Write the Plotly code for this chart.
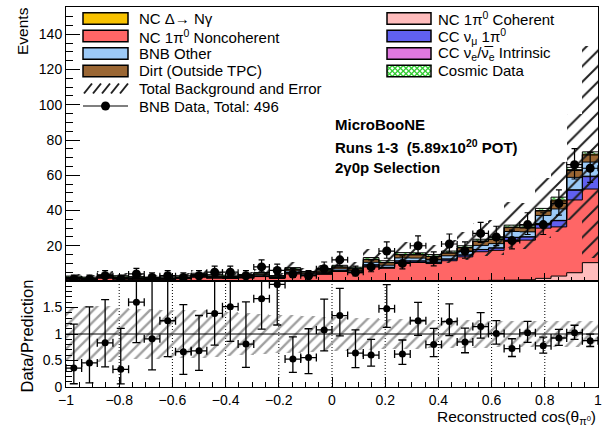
import numpy as np
import plotly.graph_objects as go

# ---------------- data ----------------
x_min, x_max, n_bins = -1.0, 1.0, 34

nc_coherent = [0, 0, 0, 0, 0, 0, 0, 0, 0, 0, 0, 0, 0, 0, 0, 0, 0,
               0, 0, 0, 0, 0, 0, 0.1, 0.2, 0.2, 0.3, 0.4, 0.5, 0.7, 1.5, 2.8, 4.7, 10.4]
nc_noncoherent = [1.2, 0.9, 1.7, 1.3, 1.0, 0.9, 1.0, 1.3, 2.2, 1.7, 1.5, 1.8, 2.5, 1.5, 4.5, 3.0, 3.8,
                  5.4, 4.6, 8.5, 7.2, 10.5, 10.5, 9.8, 11.3, 13.5, 16.3, 17.0, 22.0, 22.5, 28.5, 27.9, 41.3, 41.8]
cc_numu_pi0 = [0.1, 0.1, 0.1, 0.1, 0.1, 0.1, 0.1, 0.1, 0.2, 0.1, 0.1, 0.1, 0.2, 0.1, 0.3, 0.2, 0.3,
               0.4, 0.3, 0.6, 0.5, 0.8, 0.8, 0.7, 0.9, 1.0, 1.2, 1.3, 2.2, 1.8, 2.5, 3.5, 5.5, 7.0]
cc_nue = [0, 0, 0, 0, 0, 0, 0, 0, 0, 0, 0, 0, 0, 0, 0.05, 0.05, 0.05,
          0.05, 0.05, 0.1, 0.05, 0.1, 0.1, 0.1, 0.1, 0.1, 0.1, 0.1, 0.1, 0.1, 0.2, 0.2, 0.3, 0.3]
bnb_other = [0.4, 0.3, 0.5, 0.4, 0.3, 0.3, 0.3, 0.4, 0.6, 0.5, 0.4, 0.5, 0.6, 0.4, 0.9, 0.6, 0.7,
             1.0, 0.9, 1.4, 1.2, 1.7, 1.6, 1.6, 1.8, 2.0, 2.3, 2.4, 3.3, 2.8, 4.5, 6.5, 7.0, 8.0]
dirt = [0.4, 0.3, 0.5, 0.4, 0.4, 0.3, 0.3, 0.4, 0.6, 0.5, 0.5, 0.5, 0.7, 0.4, 0.9, 0.7, 0.8,
        1.0, 1.0, 1.5, 1.4, 1.8, 1.8, 1.6, 1.5, 2.0, 2.3, 2.4, 2.2, 2.2, 2.5, 4.5, 3.9, 4.0]
nc_delta = [0, 0, 0, 0, 0, 0, 0, 0, 0, 0, 0, 0, 0, 0, 0.05, 0.05, 0.05,
            0.15, 0.15, 0.2, 0.15, 0.2, 0.2, 0.1, 0.2, 0.2, 0.2, 0.2, 0.3, 0.2, 0.3, 0.5, 0.5, 0.5]
cosmic = [0.7, 0.6, 0.8, 0.8, 0.7, 0.6, 0.7, 0.8, 0.8, 0.8, 0.8, 0.8, 0.8, 0.7, 0.9, 0.8, 0.8,
          0.9, 0.8, 1.0, 1.0, 1.0, 1.0, 1.0, 1.0, 1.0, 1.0, 1.0, 1.1, 1.0, 1.2, 1.7, 1.3, 1.3]

bnb_data = [1, 1, 3, 1, 4, 2, 3, 2, 3, 5, 5, 3, 8, 6, 4, 3, 7,
            12, 5, 8, 17, 10, 20, 12, 21, 17, 27, 25, 23, 32, 32, 44, 66, 64]

# half-width of the "Total Background and Error" band (events)
total_err = [1.4, 1.1, 1.8, 1.5, 1.2, 1.1, 1.2, 1.4, 2.0, 1.6, 1.5, 1.6, 2.0, 1.3, 3.0, 2.2, 2.6,
             3.5, 3.0, 5.0, 4.5, 6.0, 5.8, 5.5, 6.5, 8.0, 9.5, 10.0, 13.0, 13.0, 17.0, 20.0, 30.0, 60.0]
# fractional systematic band in the ratio panel
ratio_band = [0.50, 0.52, 0.52, 0.50, 0.48, 0.47, 0.46, 0.45, 0.45, 0.44, 0.42, 0.40, 0.38, 0.36, 0.35, 0.34, 0.33,
              0.32, 0.31, 0.30, 0.29, 0.28, 0.28, 0.27, 0.27, 0.26, 0.26, 0.25, 0.25, 0.25, 0.25, 0.25, 0.25, 0.25]

x_tick_vals = [-1, -0.8, -0.6, -0.4, -0.2, 0, 0.2, 0.4, 0.6, 0.8, 1]
x_tick_text = ["\u22121", "\u22120.8", "\u22120.6", "\u22120.4", "\u22120.2", "0", "0.2", "0.4", "0.6", "0.8", "1"]
grid_vals = [-0.8, -0.6, -0.4, -0.2, 0, 0.2, 0.4, 0.6, 0.8]
y_tick_vals = [20, 40, 60, 80, 100, 120, 140]
r_tick_vals = [0, 0.5, 1, 1.5]
r_tick_text = ["0", "0.5", "1", "1.5"]

# ---------------- derived ----------------
edges = np.linspace(x_min, x_max, n_bins + 1)
centers = 0.5 * (edges[:-1] + edges[1:])
binw = edges[1] - edges[0]

FONT = "Liberation Sans, Arial, sans-serif"

# pixel geometry of the figure (611 x 432)
W, H = 611, 432
L, R, T, B = 66, 13, 7, 45
PW, PH = W - L - R, H - T - B
split_px = 281  # boundary between the two panels
ratio_top = (H - B - split_px) / PH


def px(xp):
    return (xp - L) / PW


def py(yp):
    return (H - B - yp) / PH


fig = go.Figure()

stack = [
    (nc_coherent, "#ffbcbc", None),
    (nc_noncoherent, "#ff6666", None),
    (cc_numu_pi0, "#6060f0", None),
    (cc_nue, "#e078e0", None),
    (bnb_other, "#9ccaf8", None),
    (dirt, "#9a6633", None),
    (nc_delta, "#f8c200", None),
    (cosmic, "white", "x"),
]

base = np.zeros(n_bins)
tops = []
for vals, col, pat in stack:
    v = np.array(vals, dtype=float)
    if pat:
        marker = dict(color="white", line=dict(width=0),
                      pattern=dict(shape="x", fgcolor="#33cc33", bgcolor="white", size=6, solidity=0.3))
    else:
        marker = dict(color=col, line=dict(width=0))
    fig.add_trace(go.Bar(x=centers, y=v, base=base.copy(), width=binw, marker=marker,
                         showlegend=False, hoverinfo="skip", xaxis="x", yaxis="y"))
    base = base + v
    tops.append(base.copy())

for t in tops:
    fig.add_trace(go.Scatter(x=edges, y=np.append(t, t[-1]), mode="lines",
                             line=dict(color="black", width=1, shape="hv"),
                             showlegend=False, hoverinfo="skip", xaxis="x", yaxis="y"))

pred = base
err = np.array(total_err)
fig.add_trace(go.Bar(x=centers, y=2 * err, base=pred - err, width=binw,
                     marker=dict(color="rgba(0,0,0,0)", line=dict(width=0),
                                 pattern=dict(shape="/", fgcolor="#202020", bgcolor="rgba(0,0,0,0)",
                                              size=11, solidity=0.18)),
                     showlegend=False, hoverinfo="skip", xaxis="x", yaxis="y"))

d = np.array(bnb_data, dtype=float)
d_up = np.sqrt(d + 0.75) + 1.0
d_lo = d - d * (1 - 1 / (9 * d) - 1 / (3 * np.sqrt(d))) ** 3

fig.add_trace(go.Scatter(x=centers, y=d, mode="markers",
                         marker=dict(color="black", size=9),
                         error_y=dict(type="data", symmetric=False, array=d_up, arrayminus=d_lo,
                                      color="black", thickness=1.2, width=3),
                         error_x=dict(type="data", array=np.full(n_bins, binw / 2),
                                      color="black", thickness=1.2, width=3),
                         showlegend=False, hoverinfo="skip", xaxis="x", yaxis="y"))

# ratio panel
rb = np.array(ratio_band)
fig.add_trace(go.Bar(x=centers, y=2 * rb, base=1 - rb, width=binw,
                     marker=dict(color="rgba(0,0,0,0)", line=dict(width=0),
                                 pattern=dict(shape="/", fgcolor="#a0a0a0", bgcolor="rgba(0,0,0,0)",
                                              size=8, solidity=0.3)),
                     showlegend=False, hoverinfo="skip", xaxis="x2", yaxis="y2"))

ratio = d / pred
fig.add_trace(go.Scatter(x=centers, y=ratio, mode="markers",
                         marker=dict(color="black", size=7),
                         error_y=dict(type="data", symmetric=False, array=d_up / pred,
                                      arrayminus=d_lo / pred, color="black", thickness=1.3, width=4),
                         error_x=dict(type="data", array=np.full(n_bins, binw / 2),
                                      color="black", thickness=1.3, width=4),
                         showlegend=False, hoverinfo="skip", xaxis="x2", yaxis="y2"))

shapes = [dict(type="line", xref="x2", yref="y2", x0=x_min, x1=x_max, y0=1, y1=1,
               line=dict(color="black", width=1), layer="above")]
for gv in grid_vals:
    shapes.append(dict(type="line", xref="x2", yref="y2", x0=gv, x1=gv, y0=0, y1=2,
                       line=dict(color="black", width=1, dash="1px,2px"), layer="below"))

# ---------------- legend (drawn by hand, ROOT style) ----------------
annotations = []
rows = [18.5, 36, 53.5, 71, 88.5, 106]
lx0, lx1, ltx = 83, 128, 137
rx0, rx1, rtx = 387, 431, 436
sw_h = 11.5

left_entries = [("#f8c200", "NC \u0394\u2192 N\u03b3"),
                ("#ff6666", "NC 1\u03c0<sup>0</sup> Noncoherent"),
                ("#9ccaf8", "BNB Other"),
                ("#9a6633", "Dirt (Outside TPC)")]
right_entries = [("#ffbcbc", "NC 1\u03c0<sup>0</sup> Coherent"),
                 ("#6060f0", "CC \u03bd<sub>\u03bc</sub> 1\u03c0<sup>0</sup>"),
                 ("#e078e0", "CC \u03bd<sub>e</sub>/\u03bd\u0305<sub>e</sub> Intrinsic")]


def rect(x0, x1, yc, fill):
    return dict(type="rect", xref="paper", yref="paper", x0=px(x0), x1=px(x1),
                y0=py(yc + sw_h / 2), y1=py(yc - sw_h / 2), fillcolor=fill,
                line=dict(color="black", width=1.5), layer="above")


def label(x, yc, text):
    return dict(xref="paper", yref="paper", x=px(x), y=py(yc), xanchor="left", yanchor="middle",
                text=text, showarrow=False, font=dict(family=FONT, size=15, color="black"))


for i, (c, t) in enumerate(left_entries):
    shapes.append(rect(lx0, lx1, rows[i], c))
    annotations.append(label(ltx, rows[i], t))
for i, (c, t) in enumerate(right_entries):
    shapes.append(rect(rx0, rx1, rows[i], c))
    annotations.append(label(rtx, rows[i], t))

# cosmic data swatch: white box with green cross-hatch
cy = rows[3]
cx0, cx1, cyt, cyb = rx0, rx1, cy - sw_h / 2, cy + sw_h / 2
shapes.append(dict(type="rect", xref="paper", yref="paper", x0=px(cx0), x1=px(cx1),
                   y0=py(cyb), y1=py(cyt), fillcolor="white", line=dict(width=0), layer="above"))
hgt = cyb - cyt
for k in np.arange(-hgt, cx1 - cx0, 5.5):
    xa, xb = max(cx0, cx0 + k), min(cx1, cx0 + k + hgt)
    if xb > xa:
        shapes.append(dict(type="line", xref="paper", yref="paper",
                           x0=px(xa), y0=py(cyt + (xa - cx0 - k)), x1=px(xb), y1=py(cyt + (xb - cx0 - k)),
                           line=dict(color="#33cc33", width=1.3), layer="above"))
        shapes.append(dict(type="line", xref="paper", yref="paper",
                           x0=px(xa), y0=py(cyb - (xa - cx0 - k)), x1=px(xb), y1=py(cyb - (xb - cx0 - k)),
                           line=dict(color="#33cc33", width=1.3), layer="above"))
shapes.append(dict(type="rect", xref="paper", yref="paper", x0=px(cx0), x1=px(cx1),
                   y0=py(cyb), y1=py(cyt), fillcolor="rgba(0,0,0,0)",
                   line=dict(color="black", width=1.5), layer="above"))
annotations.append(label(rtx, cy, "Cosmic Data"))

# total background and error swatch: slanted strokes
hy = rows[4]
for k in range(5):
    xs = lx0 + 1 + 9 * k
    shapes.append(dict(type="line", xref="paper", yref="paper", x0=px(xs), y0=py(hy + 5),
                       x1=px(xs + 8), y1=py(hy - 5), line=dict(color="#202020", width=2), layer="above"))
annotations.append(label(ltx, hy, "Total Background and Error"))

# data swatch
dy = rows[5]
shapes.append(dict(type="line", xref="paper", yref="paper", x0=px(lx0), x1=px(lx1), y0=py(dy), y1=py(dy),
                   line=dict(color="black", width=1.2), layer="above"))
shapes.append(dict(type="circle", xref="paper", yref="paper", x0=px(105.5 - 4.5), x1=px(105.5 + 4.5),
                   y0=py(dy + 4.5), y1=py(dy - 4.5), fillcolor="black", line=dict(color="black", width=0),
                   layer="above"))
annotations.append(label(ltx, dy, "BNB Data, Total: 496"))

# experiment labels
for yc, t in [(125, "MicroBooNE"),
              (146.5, "Runs 1-3&nbsp;&nbsp;(5.89x10<sup>20</sup> POT)"),
              (167, "2\u03b30p Selection")]:
    annotations.append(dict(xref="paper", yref="paper", x=px(333), y=py(yc), xanchor="left",
                            yanchor="middle", text="<b>" + t + "</b>", showarrow=False,
                            font=dict(family=FONT, size=15, color="black")))

# axis titles
annotations.append(dict(xref="paper", yref="paper", x=px(22.5), y=py(31.5), xanchor="center",
                        yanchor="middle", text="Events", textangle=-90, showarrow=False,
                        font=dict(family=FONT, size=15.5, color="black")))
annotations.append(dict(xref="paper", yref="paper", x=px(26.5), y=py(336), xanchor="center",
                        yanchor="middle", text="Data/Prediction", textangle=-90, showarrow=False,
                        font=dict(family=FONT, size=16.5, color="black")))
annotations.append(dict(xref="paper", yref="paper", x=px(598), y=py(417), xanchor="right",
                        yanchor="middle", text="Reconstructed cos(\u03b8<sub>\u03c0<sup>0</sup></sub>)",
                        showarrow=False, font=dict(family=FONT, size=15.5, color="black")))

axis_common = dict(showline=True, linecolor="black", linewidth=1, mirror=True, ticks="inside",
                   tickcolor="black", zeroline=False, showgrid=False, automargin=False,
                   tickfont=dict(family=FONT, size=14, color="black"))

fig.update_layout(
    template="none",
    width=W, height=H, margin=dict(l=L, r=R, t=T, b=B, autoexpand=False),
    paper_bgcolor="white", plot_bgcolor="white", barmode="overlay", bargap=0,
    showlegend=False, shapes=shapes, annotations=annotations,
    xaxis=dict(domain=[0, 1], anchor="y", range=[x_min, x_max], showticklabels=False,
               tickvals=x_tick_vals, ticklen=8,
               minor=dict(dtick=0.05, tick0=-1, ticklen=4, ticks="inside", tickcolor="black"),
               **axis_common),
    yaxis=dict(domain=[ratio_top, 1], anchor="x", range=[0, 155.5], tickvals=y_tick_vals, ticklen=14,
               minor=dict(dtick=5, tick0=0, ticklen=7, ticks="inside", tickcolor="black"),
               **axis_common),
    xaxis2=dict(domain=[0, 1], anchor="y2", range=[x_min, x_max], tickvals=x_tick_vals,
                ticktext=x_tick_text, ticklen=10,
                minor=dict(dtick=0.05, tick0=-1, ticklen=5, ticks="inside", tickcolor="black"),
                **axis_common),
    yaxis2=dict(domain=[0, ratio_top], anchor="x2", range=[0, 2], tickvals=r_tick_vals,
                ticktext=r_tick_text, ticklen=12,
                minor=dict(dtick=0.1, tick0=0, ticklen=6, ticks="inside", tickcolor="black"),
                **axis_common),
)

fig.write_html("out.html", config={"displayModeBar": False, "staticPlot": True},
               post_script="document.body.style.margin='0';document.body.style.padding='0';")
